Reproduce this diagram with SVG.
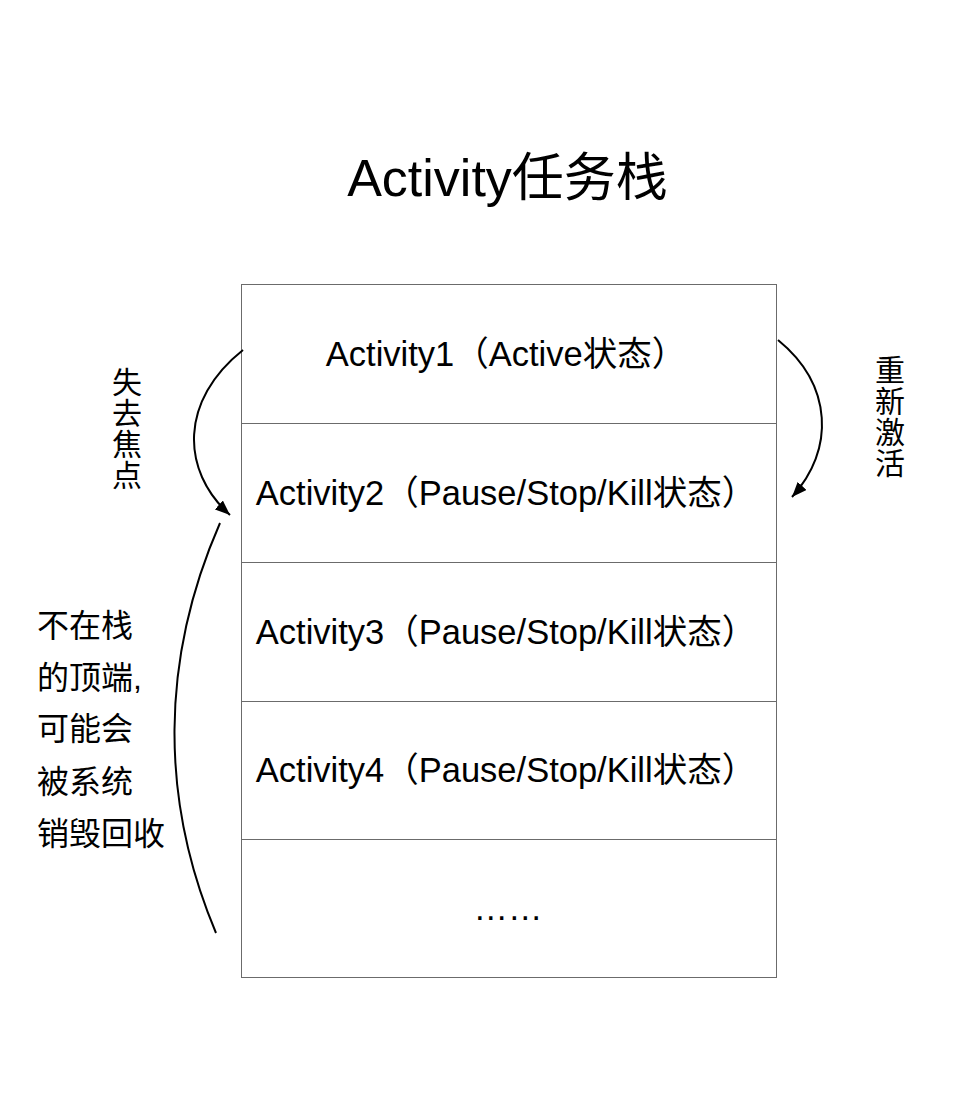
<svg xmlns="http://www.w3.org/2000/svg" width="970" height="1106" viewBox="0 0 970 1106">
<style>
.t{font-family:"Liberation Sans","Noto Sans CJK SC",Arial,sans-serif;fill:#000}
.row{fill:#fff;stroke:#6b6b6b;stroke-width:1}
.lbl{font-size:34.5px;text-anchor:middle}
.side{font-size:30px}
.note{font-size:32px}
.con{fill:none;stroke:#000;stroke-width:2}
</style>
<defs>
<marker id="ah" markerWidth="16" markerHeight="12" refX="15" refY="6" orient="auto" markerUnits="userSpaceOnUse">
<path d="M0,0 L15,6 L0,12 Z" fill="#000"/>
</marker>
</defs>
<rect width="970" height="1106" fill="#fff"/>
<text id="title" class="t" x="507.5" y="196" font-size="52" text-anchor="middle">Activity任务栈</text>
<g id="row1"><rect class="row" x="241.5" y="284.5" width="535" height="139"/><text class="t lbl" x="506" y="366">Activity1（Active状态）</text></g>
<g id="row2"><rect class="row" x="241.5" y="423.5" width="535" height="139"/><text class="t lbl" x="506" y="505">Activity2（Pause/Stop/Kill状态）</text></g>
<g id="row3"><rect class="row" x="241.5" y="562.5" width="535" height="139"/><text class="t lbl" x="506" y="644">Activity3（Pause/Stop/Kill状态）</text></g>
<g id="row4"><rect class="row" x="241.5" y="701.5" width="535" height="138"/><text class="t lbl" x="506" y="782">Activity4（Pause/Stop/Kill状态）</text></g>
<g id="row5"><rect class="row" x="241.5" y="839.5" width="535" height="138"/><text class="t lbl" x="508" y="920">……</text></g>
<g id="lose-focus" class="t side" text-anchor="middle">
<text x="127" y="393">失</text><text x="127" y="424">去</text><text x="127" y="455">焦</text><text x="127" y="486">点</text>
</g>
<g id="reactivate" class="t side" text-anchor="middle">
<text x="890" y="381">重</text><text x="890" y="412">新</text><text x="890" y="443">激</text><text x="890" y="474">活</text>
</g>
<g id="note" class="t note">
<text x="37" y="637">不在栈</text>
<text x="37" y="689">的顶端,</text>
<text x="37" y="740">可能会</text>
<text x="37" y="793">被系统</text>
<text x="37" y="845">销毁回收</text>
</g>
<g id="connectors">
<path class="con" d="M243,350 C180,400 180,470 230,515" marker-end="url(#ah)"/>
<path class="con" d="M778,340 C833,385 835,450 792,497" marker-end="url(#ah)"/>
<path class="con" d="M220,523 C160,660 160,800 216,933"/>
</g>
</svg>
